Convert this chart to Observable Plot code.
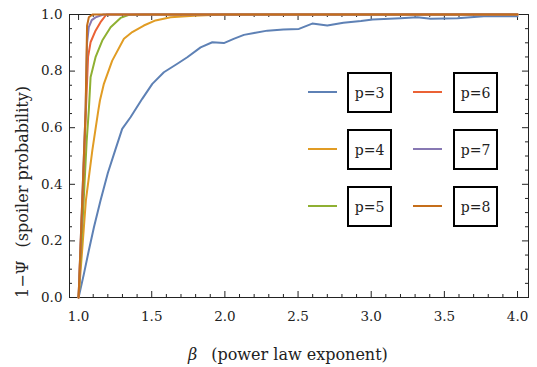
<!DOCTYPE html>
<html><head><meta charset="utf-8">
<script src="https://cdn.jsdelivr.net/npm/d3@7"></script>
<script src="https://cdn.jsdelivr.net/npm/@observablehq/plot@0.6"></script>
<style>
body{margin:0;background:#fff;}
#wrap{position:relative;width:537px;height:367px;font-family:"DejaVu Serif",serif;}
.sw{position:absolute;height:2px;width:29px;}
.bx{position:absolute;width:41px;height:37px;border:2px solid #000;display:flex;align-items:center;justify-content:center;font-size:14px;color:#222;background:#fff;box-sizing:content-box;}
</style></head><body><div id="wrap"></div>
<script>
const series = ["p=3","p=4","p=5","p=6","p=7","p=8"];
const colors = ["#5E81B5","#E19C24","#8FB032","#EB6235","#8778B3","#C56E1A"];

const p3 = [[1.0,0],[1.035,0.08],[1.07,0.166],[1.105,0.248],[1.15,0.343],[1.2,0.44],[1.25,0.52],[1.298,0.596],[1.355,0.637],[1.435,0.702],[1.504,0.755],[1.583,0.796],[1.675,0.826],[1.743,0.849],[1.834,0.884],[1.914,0.902],[1.993,0.899],[2.06,0.914],[2.13,0.928],[2.2,0.935],[2.29,0.943],[2.4,0.947],[2.506,0.949],[2.597,0.968],[2.7,0.961],[2.81,0.971],[2.93,0.977],[3.01,0.982],[3.2,0.987],[3.315,0.99],[3.406,0.985],[3.59,0.987],[3.77,0.994],[4.0,0.994]];
const p4 = [[1.0,0],[1.025,0.17],[1.05,0.343],[1.094,0.52],[1.135,0.661],[1.146,0.696],[1.173,0.755],[1.23,0.837],[1.31,0.914],[1.367,0.938],[1.446,0.961],[1.526,0.979],[1.629,0.99],[1.788,0.996],[2.0,1.0],[4.0,1.0]];
const p5 = [[1.0,0],[1.035,0.343],[1.055,0.55],[1.07,0.661],[1.082,0.778],[1.116,0.849],[1.162,0.908],[1.219,0.955],[1.287,0.988],[1.34,0.998],[1.45,1.0],[4.0,1.0]];
const p6 = [[1.0,0],[1.027,0.343],[1.05,0.661],[1.065,0.85],[1.082,0.902],[1.116,0.943],[1.15,0.973],[1.19,1.0],[4.0,1.0]];
const p7 = [[1.0,0],[1.025,0.343],[1.048,0.661],[1.058,0.9],[1.07,0.955],[1.09,0.98],[1.116,0.99],[1.17,1.0],[4.0,1.0]];
const p8 = [[1.0,0],[1.025,0.343],[1.048,0.661],[1.058,0.96],[1.07,0.99],[1.095,1.0],[4.0,1.0]];

const xMajor = [1.0,1.5,2.0,2.5,3.0,3.5,4.0];
const yMajor = [0,0.2,0.4,0.6,0.8,1.0];
const xMinor = d3.range(10,41).map(d=>d/10).filter(d=>!xMajor.some(m=>Math.abs(m-d)<1e-9));
const yMinor = d3.range(0,21).map(d=>d/20).filter(d=>!yMajor.some(m=>Math.abs(m-d)<1e-9));

const all = [p3,p4,p5,p6,p7,p8];
const data = all.flatMap((arr,i)=>arr.map(([b,v])=>({b,v,p:series[i]})));

const xDom = [0.938,4.075];
const FONT = "'DejaVu Serif',serif";
const font = {fontFamily:FONT, fontSize:"13.5px", color:"#222", background:"transparent"};
const ky = 1/283, kx = 1/146.3;
const tx = (ticks, len) => [
  Plot.ruleX(ticks, {x:d=>d, y1:0, y2:len*ky, stroke:"#222"}),
  Plot.ruleX(ticks, {x:d=>d, y1:1, y2:1-len*ky, stroke:"#222"})
];
const ty = (ticks, len) => [
  Plot.ruleY(ticks, {y:d=>d, x1:xDom[0], x2:xDom[0]+len*kx, stroke:"#222"}),
  Plot.ruleY(ticks, {y:d=>d, x1:xDom[1], x2:xDom[1]-len*kx, stroke:"#222"})
];

const chart = Plot.plot({
  width:537, height:367,
  marginLeft:69, marginRight:9, marginTop:14, marginBottom:70,
  style: font,
  x:{domain:xDom},
  y:{domain:[0,1]},
  color:{domain:series, range:colors},
  marks:[
    Plot.frame({stroke:"#222"}),
    ...tx(xMajor,6), ...tx(xMinor,3), ...ty(yMajor,6), ...ty(yMinor,3),
    Plot.axisX(xMajor, {anchor:"bottom", tickSize:0, tickPadding:14, tickFormat:d3.format(".1f"), label:null, fill:"#222"}),
    Plot.axisY(yMajor, {anchor:"left", tickSize:0, tickPadding:7, tickFormat:d3.format(".1f"), label:null, fill:"#222"}),
    Plot.line(data, {x:"b", y:"v", stroke:"p", strokeWidth:2, strokeLinejoin:"round"})
  ]
});
const wrap = document.getElementById("wrap");
wrap.appendChild(chart);

const svg = d3.select(chart);
const xl = svg.append("text").attr("x", 188).attr("y", 360).attr("text-anchor","start")
  .style("font-family",FONT).style("font-size","16px").attr("fill","#222");
xl.append("tspan").style("font-style","italic").text("β");
xl.append("tspan").attr("dx", 14).text("(power law exponent)");
const yl = svg.append("text").attr("transform","translate(28,298) rotate(-90)").attr("text-anchor","start")
  .style("font-family",FONT).style("font-size","16px").attr("fill","#222");
yl.append("tspan").text("1\u2212\u03A8");
yl.append("tspan").attr("dx", 13).text("(spoiler probability)");

// legend
const cols = [[308,347],[413,453]];
const rows = [72,129,186];
series.forEach((s,i)=>{
  const c = cols[Math.floor(i/3)], r = rows[i%3];
  const sw = document.createElement("div"); sw.className="sw";
  sw.style.left=c[0]+"px"; sw.style.top=(r+19)+"px"; sw.style.background=colors[i];
  const bx = document.createElement("div"); bx.className="bx";
  bx.style.left=c[1]+"px"; bx.style.top=r+"px"; bx.textContent=s;
  wrap.appendChild(sw); wrap.appendChild(bx);
});
</script></body></html>
